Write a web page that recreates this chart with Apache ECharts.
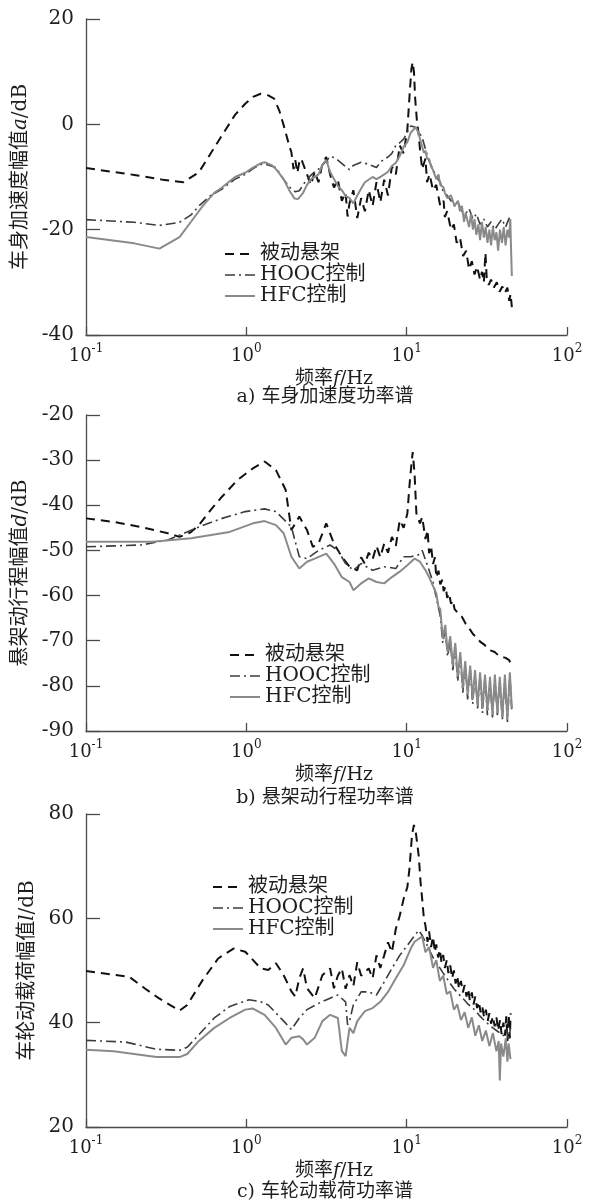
<!DOCTYPE html>
<html><head><meta charset="utf-8">
<script src="https://cdn.jsdelivr.net/npm/echarts@6/dist/echarts.min.js"></script>
<style>html,body{margin:0;padding:0;background:#fff}#c{width:596px;height:1202px}</style>
</head><body><div id="c"></div>
<script>
// ---------- labels ----------
const seriesNames = ['被动悬架', 'HOOC控制', 'HFC控制'];
const captions = ['a) 车身加速度功率谱', 'b) 悬架动行程功率谱', 'c) 车轮动载荷功率谱'];
const yNames = [['车身加速度幅值', 'a'], ['悬架动行程幅值', 'd'], ['车轮动载荷幅值', 'l']];
const xName = ['频率', 'f', '/Hz'];
const xRange = [0.1, 100];
const yRanges = [[-40, 20, 20], [-90, -20, 10], [20, 80, 20]];

// ---------- a) body acceleration [Hz, dB] ----------
const accPassive = [[0.1,-8.3],[0.2,-9.6],[0.3,-10.5],[0.405,-11.0],[0.506,-9.1],[0.6,-5.5],[0.705,-2.1],[0.85,1.8],[0.984,3.9],[1.1,5.2],[1.23,5.8],[1.37,5.5],[1.49,4.9],[1.61,2.5],[1.71,-0.2],[1.85,-4],[1.91,-5.3],[1.97,-8.5],[2.02,-6.8],[2.08,-9.2],[2.14,-7.2],[2.2,-6.5],[2.26,-7.5],[2.39,-9.5],[2.53,-11.5],[2.67,-9],[2.82,-11],[2.98,-7.5],[3.15,-6.2],[3.33,-9.5],[3.52,-12],[3.72,-10.5],[3.94,-14.5],[4.16,-13],[4.28,-17.5],[4.4,-15],[4.65,-12.5],[4.92,-17.8],[5.2,-14],[5.49,-16.5],[5.8,-12.5],[6.13,-15.5],[6.48,-11],[6.85,-14.8],[7.24,-10.5],[7.65,-13.5],[8.09,-8],[8.56,-9.5],[9.05,-4],[9.57,-5.5],[10.1,-1],[10.4,5],[10.7,10.5],[10.9,11.8],[11.1,10],[11.3,4.9],[11.6,0.5],[11.9,-2],[12.1,-4.7],[12.5,-8.5],[13.1,-6.5],[13.4,-11],[13.9,-9.5],[14.6,-12.5],[15.3,-11.5],[16.2,-15.5],[17.0,-14.5],[17.3,-17.6],[17.9,-16.5],[18.9,-20],[19.7,-19],[20.5,-22.5],[21.5,-21.5],[22.5,-25],[23.5,-24],[24.5,-27.5],[25.5,-26],[26.5,-28.5],[27.5,-27],[28.7,-29.5],[29.5,-28],[30.3,-30],[31.0,-24.4],[31.6,-29.5],[32.5,-30.5],[33.6,-29.5],[35.0,-31],[36.5,-30],[38.0,-31.8],[39.5,-30.8],[41.0,-32],[42.5,-31],[43.6,-33.5],[44.5,-32.2],[45.3,-34.7]];
const accHooc = [[0.1,-18.1],[0.2,-18.6],[0.287,-19.2],[0.383,-18.6],[0.452,-17.2],[0.506,-15.5],[0.6,-13.5],[0.705,-12.3],[0.85,-10.4],[0.984,-9.5],[1.1,-8.4],[1.23,-7.6],[1.37,-7.7],[1.53,-8.2],[1.71,-10.5],[1.91,-12.3],[2.02,-12.8],[2.14,-12.6],[2.26,-11.5],[2.39,-10.4],[2.6,-9.3],[2.82,-8.5],[3.15,-7],[3.33,-6.1],[3.52,-6.3],[3.72,-6.8],[4.16,-8],[4.4,-8.6],[4.65,-7.8],[5.2,-7.2],[5.8,-7.6],[6.48,-8.2],[6.85,-7.2],[7.24,-6.6],[7.65,-6.2],[8.09,-5.5],[8.56,-4],[9.05,-3.5],[9.57,-2.8],[10.1,-1.5],[10.6,-0.3],[11.2,-0.5],[11.8,-1.2],[12.5,-2.5],[13.1,-4.7],[13.8,-7],[14.6,-8.5],[15.3,-10],[16.2,-11],[17.0,-13],[17.9,-13.5],[18.9,-14.5],[19.9,-15.5],[21.0,-15],[22.1,-16.5],[23.3,-17],[24.5,-16],[25.9,-18],[27.2,-17],[28.7,-19],[30.3,-18],[31.9,-19.5],[33.6,-18.5],[35.4,-20],[37.2,-19],[39.3,-18],[41.4,-19.5],[43.6,-17.8],[45.3,-17.2]];
const accHfc = [[0.1,-21.4],[0.2,-22.6],[0.287,-23.6],[0.383,-21.4],[0.452,-18.5],[0.535,-15.5],[0.631,-13],[0.705,-12],[0.85,-10],[0.984,-9.2],[1.1,-8.2],[1.23,-7.4],[1.3,-7.2],[1.45,-7.8],[1.53,-8.5],[1.71,-10.4],[1.85,-12.5],[2.0,-14.1],[2.1,-14.2],[2.26,-13],[2.39,-11.5],[2.53,-10.4],[2.82,-9.5],[3.0,-7.5],[3.15,-6.8],[3.33,-9],[3.52,-10.4],[3.72,-11.7],[3.94,-12.5],[4.16,-13.6],[4.4,-14],[4.65,-15],[4.92,-13.5],[5.2,-12.2],[5.49,-11],[6.13,-10],[6.48,-10.4],[6.85,-10],[7.24,-9.5],[7.65,-9],[8.09,-7.9],[8.56,-7.3],[9.05,-6],[9.57,-4.3],[10.1,-3.4],[10.6,-1.6],[11.4,-0.5],[11.8,-1.5],[12.8,-5.4],[13.1,-5],[13.4,-6.5],[13.8,-6.6],[14.2,-8],[14.6,-8.7],[15.3,-10.4],[15.8,-9.5],[16.2,-11.5],[17.0,-12],[17.3,-13],[17.9,-14],[18.9,-13.5],[19.9,-15.5],[20.9,-14.5],[21.5,-16.5],[22.1,-15.5],[22.8,-18.5],[23.3,-16.8],[24.5,-19.5],[25.2,-17],[25.9,-20],[26.5,-18],[27.2,-21],[28.0,-19],[28.7,-22],[29.5,-18.5],[30.3,-21.5],[31.1,-19.5],[31.9,-22.5],[32.8,-20],[33.6,-23],[34.5,-19.5],[35.4,-22],[36.3,-20.5],[37.2,-24],[38.2,-20],[39.3,-22.5],[40.3,-19.5],[41.4,-23],[42.5,-20],[43.6,-21.5],[44.3,-18],[44.8,-24],[45.3,-28.8]];

// ---------- b) suspension travel [Hz, dB] ----------
const travPassive = [[0.1,-42.9],[0.149,-43.7],[0.22,-44.8],[0.324,-46.2],[0.383,-47],[0.45,-46],[0.506,-44.4],[0.6,-41],[0.705,-38.1],[0.881,-34.4],[1.1,-31.8],[1.3,-30.3],[1.53,-32.2],[1.76,-36.6],[1.91,-45.5],[2.02,-44],[2.14,-42.5],[2.39,-45.5],[2.6,-49.2],[2.82,-48.5],[3.15,-44],[3.52,-48.5],[3.94,-51.4],[4.4,-53.6],[4.92,-54.4],[5.2,-51.5],[5.49,-53],[5.8,-50.5],[6.13,-52],[6.48,-49],[6.85,-51.5],[7.24,-48.5],[7.65,-50.5],[8.09,-47],[8.56,-49],[9.05,-43.3],[9.57,-45],[10.1,-41.8],[10.5,-34],[10.9,-28.2],[11.2,-33],[11.5,-41.8],[12.1,-44],[12.5,-42.6],[13.1,-47.5],[13.5,-45.5],[13.8,-50.6],[14.2,-49],[14.6,-53],[15.0,-51.5],[15.3,-56],[15.8,-54.5],[16.2,-57.5],[16.7,-56.5],[17.0,-59],[17.5,-58],[17.9,-60.5],[18.4,-59.5],[18.9,-61.8],[19.4,-61],[19.9,-63],[21.0,-64],[22.1,-64.7],[23.3,-66.2],[24.5,-67.2],[25.9,-68.5],[27.2,-69.2],[28.7,-70.2],[30.3,-70.8],[31.9,-71.6],[33.6,-72.2],[35.4,-72.5],[37.2,-73.2],[39.3,-73.6],[41.4,-73.8],[43.6,-74.3],[44.7,-74.0],[45.3,-75.8]];
const travHooc = [[0.1,-49.2],[0.22,-48.8],[0.324,-47.7],[0.506,-44.8],[0.705,-42.9],[0.984,-41.4],[1.3,-40.8],[1.53,-41.4],[1.91,-44.8],[2.14,-51.4],[2.39,-51.8],[2.82,-50],[3.33,-48.8],[3.72,-50],[4.16,-52.9],[4.65,-54.4],[5.2,-52.9],[6.13,-54.4],[7.24,-53.6],[8.56,-54],[9.57,-51.4],[10.6,-51.4],[11.8,-51],[12.5,-50],[13.8,-54.4],[14.6,-57],[15.3,-60.5],[16.2,-64.5],[16.8,-70.5],[17.4,-67.5],[18.0,-73.5],[18.7,-70],[19.4,-76.5],[20.1,-71.5],[20.8,-79],[21.6,-73.5],[22.4,-81.5],[23.2,-75],[24.0,-83],[24.9,-76],[25.8,-84],[26.7,-77],[27.7,-85],[28.7,-77.5],[29.7,-86],[30.8,-78],[31.9,-86.5],[33.1,-78.5],[34.3,-87],[35.5,-78],[36.8,-86.5],[38.1,-78.5],[39.5,-87.5],[41.0,-78],[42.5,-88],[44.0,-77.5],[45.3,-86]];
const travHfc = [[0.1,-48.1],[0.26,-48.1],[0.452,-47.3],[0.787,-45.9],[1.1,-44],[1.3,-43.5],[1.53,-44.4],[1.71,-46.2],[1.91,-51.4],[2.14,-54],[2.39,-52.5],[2.67,-51.8],[3.15,-50.7],[3.52,-52.9],[3.94,-55.9],[4.4,-57],[4.65,-58.8],[5.2,-57.3],[5.8,-56.2],[6.48,-57],[7.24,-57.3],[8.09,-55.9],[9.05,-54.7],[10.1,-53.3],[11.2,-51.8],[12.1,-52.5],[13.1,-54.4],[13.8,-55.9],[15.3,-59.5],[15.8,-62.5],[16.2,-63],[16.8,-69.5],[17.4,-66.5],[18.0,-72.5],[18.7,-69],[19.4,-75.5],[20.1,-70.5],[20.8,-78],[21.6,-72.5],[22.4,-80.5],[23.2,-74.5],[24.0,-82],[24.9,-75.5],[25.8,-83],[26.7,-76.5],[27.7,-84.5],[28.7,-77],[29.7,-85],[30.8,-77.5],[31.9,-85.5],[33.1,-78],[34.3,-86.5],[35.5,-77.5],[36.8,-86],[38.1,-78],[39.5,-87],[41.0,-77.5],[42.5,-87.5],[44.0,-77],[45.3,-85]];

// ---------- c) tyre dynamic load [Hz, dB] ----------
const loadPassive = [[0.1,49.9],[0.186,48.8],[0.232,46.6],[0.284,44.7],[0.383,42.3],[0.428,43.4],[0.535,48.2],[0.667,52.3],[0.832,54.2],[0.984,53.6],[1.23,50.4],[1.37,50.1],[1.53,51.4],[1.71,49.1],[1.91,46],[2.02,45],[2.14,48.5],[2.26,50.4],[2.39,46.6],[2.67,44.7],[2.98,49.1],[3.33,50.4],[3.52,46.6],[3.72,49],[3.94,50.4],[4.16,46.5],[4.4,49.1],[4.65,47],[4.92,51.6],[5.2,49],[5.8,50.4],[6.13,48.5],[6.48,52.9],[6.85,50.5],[7.24,52.9],[7.65,55.4],[8.09,53.5],[8.56,58],[9.05,60.5],[9.57,63.7],[10.1,66],[10.4,69.4],[10.8,76],[11.1,77.9],[11.4,76.5],[11.9,71.9],[12.2,67],[12.5,63.7],[12.8,60],[13.1,58.6],[13.5,55.5],[13.8,57.5],[14.2,54.5],[14.6,56.5],[15.0,53.5],[15.3,55],[15.7,52.5],[16.1,54],[16.5,51.5],[16.9,53],[17.3,50.5],[17.8,52],[18.2,49.5],[18.7,51],[19.2,48.5],[19.7,50],[20.2,47.5],[20.7,49],[21.2,46.5],[21.8,48],[22.4,45.8],[23.0,47.2],[23.6,45],[24.2,46.5],[24.8,44.2],[25.5,45.8],[26.1,43.5],[26.8,45],[27.5,42.8],[28.2,44],[28.9,42],[29.6,43.2],[30.4,41],[31.2,42.5],[32.0,40.3],[32.8,41.8],[33.6,39.8],[34.5,41.2],[35.4,39.3],[36.3,41],[37.2,38.5],[38.2,40.5],[39.1,37.8],[40.1,40],[41.0,37.5],[41.8,41.2],[42.5,36.5],[43.3,41.5],[44.0,37],[44.5,41.8]];
const loadHooc = [[0.1,36.6],[0.176,36.3],[0.275,34.9],[0.383,34.7],[0.428,35.3],[0.506,37.7],[0.631,40.9],[0.787,43.1],[1.04,44.4],[1.23,44],[1.37,43.4],[1.71,40.3],[1.91,38.7],[2.14,40.9],[2.39,42.5],[2.82,43.7],[3.33,44.7],[3.72,45.3],[4.16,44],[4.28,39.6],[4.4,40.3],[4.65,43.4],[5.2,45.9],[5.8,45.9],[6.48,45.3],[7.24,47.8],[8.09,50.4],[9.05,52.9],[10.1,54.8],[11.2,56.7],[11.9,57.7],[12.5,56.7],[13.1,55.5],[13.8,54],[14.6,52.5],[15.3,51.5],[16.1,50.5],[16.9,49.5],[17.8,48.5],[18.7,47.5],[19.7,46.5],[20.7,45.8],[21.8,45],[23.0,44.3],[24.2,43.5],[25.5,43],[26.8,42.3],[28.2,41.5],[29.6,40.8],[31.2,40.2],[32.8,39.5],[34.5,39],[36.3,38.5],[38.2,38],[40.1,37.5],[42.0,38.5],[43.3,36.5],[44.4,39]];
const loadHfc = [[0.1,34.8],[0.149,34.5],[0.275,33.4],[0.383,33.4],[0.428,34],[0.506,36.5],[0.631,39],[0.787,40.9],[0.984,42.5],[1.1,42.7],[1.3,41.5],[1.53,39],[1.76,35.8],[1.91,37.1],[2.14,37.4],[2.26,36.8],[2.39,35.8],[2.67,37.1],[2.98,40.3],[3.33,41.5],[3.72,40.9],[3.94,34.6],[4.16,33.6],[4.4,39],[4.65,38],[4.92,40.3],[5.49,42.2],[6.13,42.8],[6.85,44],[7.65,45.9],[8.56,48.5],[9.57,51],[10.6,54.2],[11.2,55.5],[11.9,56.1],[12.5,56.5],[13.1,53.5],[13.8,54.5],[14.6,50.5],[15.3,52],[16.1,48],[16.9,49],[17.8,45.5],[18.7,46],[19.7,42.5],[20.7,43.5],[21.8,40.5],[23.0,42],[24.2,39],[25.5,41],[26.8,37.5],[28.2,39.5],[29.6,36.5],[31.2,38.5],[32.8,35.5],[34.5,38],[36.3,34.5],[37.5,36.5],[38.1,28.9],[38.8,36],[40.1,33.5],[41.5,37],[42.5,32.5],[43.3,36],[44.4,33]];

const panels = [
  [accPassive, accHooc, accHfc],
  [travPassive, travHooc, travHfc],
  [loadPassive, loadHooc, loadHfc]
];

// ---------- layout / style ----------
const FONT = "'DejaVu Serif','Noto Sans CJK SC',serif";
const TXT = '#1e1e1e';
const AXC = '#4a4a4a';
const gridPos = [{top: 19, height: 316}, {top: 415, height: 316}, {top: 814, height: 313}];
const legendPos = [{left: 224, top: 244}, {left: 229, top: 645}, {left: 212, top: 877}];
const captionY = [397, 798, 1192];
const lineStyles = [
  {color: '#111', width: 2, type: [9, 6]},
  {color: '#3c3c3c', width: 1.6, type: [10, 4, 2, 4]},
  {color: '#8a8a8a', width: 2, type: 'solid'}
];

const grids = [], xAxes = [], yAxes = [], series = [], legends = [], graphics = [];
panels.forEach((sets, p) => {
  grids.push({left: 86, width: 481, top: gridPos[p].top, height: gridPos[p].height});
  xAxes.push({
    type: 'log', logBase: 10, gridIndex: p, min: xRange[0], max: xRange[1],
    name: '{n|' + xName[0] + '}{i|' + xName[1] + '}{n|' + xName[2] + '}',
    nameLocation: 'middle', nameGap: 35,
    nameTextStyle: {padding: [0, 0, 0, 15], rich: {
      n: {fontSize: 19, fontFamily: FONT, color: TXT},
      i: {fontSize: 19, fontFamily: FONT, fontStyle: 'italic', color: TXT}}},
    axisLine: {show: true, onZero: false, lineStyle: {color: AXC, width: 1.3}},
    axisTick: {show: true, inside: true, length: 8, lineStyle: {color: AXC, width: 1.3}},
    splitLine: {show: false}, minorTick: {show: false},
    axisLabel: {
      margin: 8, showMinLabel: true, showMaxLabel: true,
      formatter: v => '{b|10}{s|' + Math.round(Math.log10(v)) + '}',
      rich: {
        b: {fontSize: 18, fontFamily: FONT, color: TXT, lineHeight: 22, verticalAlign: 'bottom'},
        s: {fontSize: 12, fontFamily: FONT, color: TXT, lineHeight: 22, verticalAlign: 'top'}
      }
    }
  });
  const yr = yRanges[p];
  yAxes.push({
    type: 'value', gridIndex: p, min: yr[0], max: yr[1], interval: yr[2],
    name: '{n|' + yNames[p][0] + '}{i|' + yNames[p][1] + '}{n|/dB}',
    nameLocation: 'middle', nameGap: 48, nameRotate: 90,
    nameTextStyle: {rich: {
      n: {fontSize: 20, fontFamily: FONT, color: TXT},
      i: {fontSize: 20, fontFamily: FONT, fontStyle: 'italic', color: TXT}}},
    axisLine: {show: true, onZero: false, lineStyle: {color: AXC, width: 1.3}},
    axisTick: {show: true, inside: true, length: 14, lineStyle: {color: AXC, width: 1.3}},
    splitLine: {show: false},
    axisLabel: {margin: 12, fontSize: 20, fontFamily: FONT, color: TXT}
  });
  sets.forEach((d, k) => {
    series.push({
      type: 'line', name: seriesNames[k], xAxisIndex: p, yAxisIndex: p,
      data: d, symbol: 'none', showSymbol: false, clip: true,
      lineStyle: lineStyles[k], itemStyle: {color: lineStyles[k].color},
      z: 2 + k
    });
  });
  legends.push({
    data: seriesNames, orient: 'vertical', left: legendPos[p].left, top: legendPos[p].top,
    itemWidth: 30, itemHeight: 14, itemGap: 1, padding: 0, selectedMode: false,
    itemStyle: {opacity: 0},
    lineStyle: {type: 'inherit', width: 'inherit'},
    textStyle: {fontSize: 20, fontFamily: FONT, color: TXT, lineHeight: 20}
  });
  graphics.push({
    type: 'text', x: 325, y: captionY[p],
    style: {text: captions[p], fontSize: 19, fontFamily: FONT, fill: TXT, align: 'center', verticalAlign: 'middle'}
  });
});

const chart = echarts.init(document.getElementById('c'), null, {renderer: 'canvas'});
chart.setOption({
  backgroundColor: '#fff', animation: false,
  grid: grids, xAxis: xAxes, yAxis: yAxes, series: series, legend: legends, graphic: graphics
});
</script></body></html>
